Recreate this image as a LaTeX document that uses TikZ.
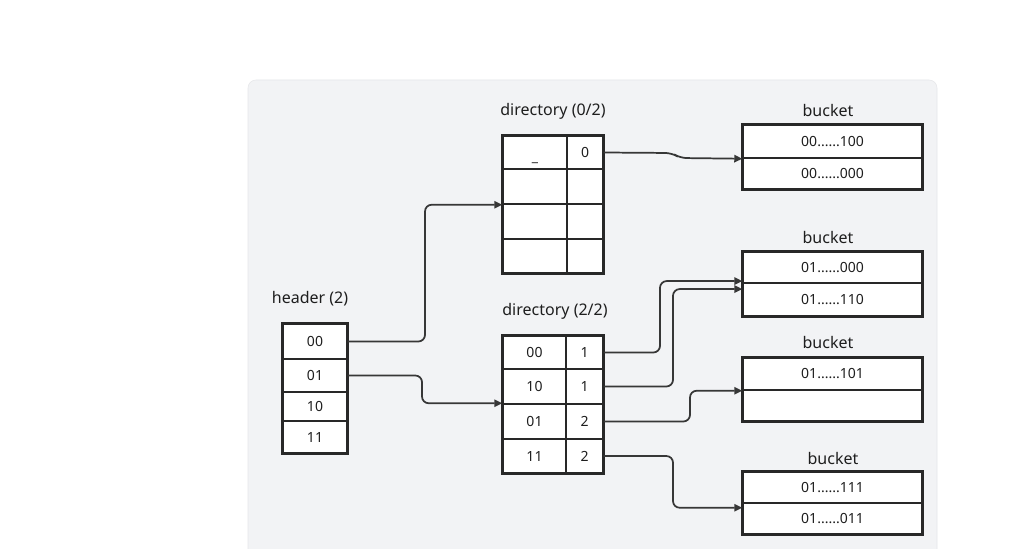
\documentclass[tikz,border=0pt]{standalone}
\usepackage{fontspec}
\setmainfont{Noto Sans}
\usetikzlibrary{arrows.meta}
\definecolor{panelc}{RGB}{242,243,245}
\definecolor{paneledge}{RGB}{230,231,234}
\definecolor{linec}{RGB}{40,40,40}
\definecolor{arrc}{RGB}{55,55,55}
\definecolor{txtc}{RGB}{30,30,30}
\newcommand\cellbox[6]{\node[cell, minimum width={(#4-#2)*0.75pt}, minimum height={(#5-#3)*0.75pt}] (#1) at ({(#2+#4)/2},{(#3+#5)/2}) {#6};}
\tikzset{
  cell/.style={draw=linec, fill=white, line width=1.1pt, inner sep=0pt, font=\fontsize{10.5}{12}\selectfont, text=txtc},
  outer/.style={draw=linec, line width=1.5pt},
  lbl/.style={font=\fontsize{12}{14}\selectfont, text=txtc, inner sep=0pt},
  conn/.style={draw=arrc, line width=1.3pt, rounded corners=5pt, -{Triangle[length=6pt,width=5.5pt]}}
}
\begin{document}
\begin{tikzpicture}[x=0.75pt,y=-0.75pt]
\useasboundingbox (0,0) rectangle (1024,549);
\fill[white] (0,0) rectangle (1024,549);
\draw[paneledge, fill=panelc, rounded corners=6pt] (248,80) rectangle (937,560);

% header
\node[lbl] (hl) at (310,299) {header (2)};
\cellbox{h0}{283}{324}{347}{359}{00}
\cellbox{h1}{283}{359}{347}{392}{01}
\cellbox{h2}{283}{392}{347}{421}{10}
\cellbox{h3}{283}{421}{347}{453}{11}
\draw[outer] (h0.north west) rectangle (h3.south east);

% directory 0/2
\node[lbl] (d0l) at (553,111) {directory (0/2)};
\cellbox{d0k0}{503}{136}{567}{169}{\rule{0pt}{2.6ex}\_}
\cellbox{d0v0}{567}{136}{603}{169}{0}
\cellbox{d0k1}{503}{169}{567}{204}{}
\cellbox{d0v1}{567}{169}{603}{204}{}
\cellbox{d0k2}{503}{204}{567}{239}{}
\cellbox{d0v2}{567}{204}{603}{239}{}
\cellbox{d0k3}{503}{239}{567}{273}{}
\cellbox{d0v3}{567}{239}{603}{273}{}
\draw[outer] (d0k0.north west) rectangle (d0v3.south east);

% directory 2/2
\node[lbl] (d2l) at (555,311) {directory (2/2)};
\cellbox{d2k0}{503}{336}{566}{369}{00}
\cellbox{d2v0}{566}{336}{603}{369}{1}
\cellbox{d2k1}{503}{369}{566}{404}{10}
\cellbox{d2v1}{566}{369}{603}{404}{1}
\cellbox{d2k2}{503}{404}{566}{439}{01}
\cellbox{d2v2}{566}{404}{603}{439}{2}
\cellbox{d2k3}{503}{439}{566}{473}{11}
\cellbox{d2v3}{566}{439}{603}{473}{2}
\draw[outer] (d2k0.north west) rectangle (d2v3.south east);

% buckets
\node[lbl] (b1l) at (828,111) {bucket};
\cellbox{b1a}{743}{125}{922}{158}{00......100}
\cellbox{b1b}{743}{158}{922}{189}{00......000}
\draw[outer] (b1a.north west) rectangle (b1b.south east);

\node[lbl] (b2l) at (828,237) {bucket};
\cellbox{b2a}{743}{252}{922}{283}{01......000}
\cellbox{b2b}{743}{283}{922}{316}{01......110}
\draw[outer] (b2a.north west) rectangle (b2b.south east);

\node[lbl] (b3l) at (828,342) {bucket};
\cellbox{b3a}{743}{358}{922}{390}{01......101}
\cellbox{b3b}{743}{390}{922}{421}{}
\draw[outer] (b3a.north west) rectangle (b3b.south east);

\node[lbl] (b4l) at (833,458) {bucket};
\cellbox{b4a}{743}{472}{922}{503}{01......111}
\cellbox{b4b}{743}{503}{922}{534}{01......011}
\draw[outer] (b4a.north west) rectangle (b4b.south east);

% connectors
\draw[conn] (d0v0.east) -- (672,153) -- (680,158) -- (b1a.south west);
\draw[conn] (h0.east) -| (425,270) |- (d0k1.south west);
\draw[conn] (h1.east) -| (422,390) |- (d2k2.north west);
\draw[conn] (d2v0.east) -| (660,320) |- ([yshift=2pt]b2a.south west);
\draw[conn] (d2v1.east) -| (673,330) |- ([yshift=-4pt]b2a.south west);
\draw[conn] (d2v2.east) -| (690,405) |- (b3a.south west);
\draw[conn] (d2v3.east) -| (673,480) |- ([yshift=-3pt]b4a.south west);
\end{tikzpicture}
\end{document}
